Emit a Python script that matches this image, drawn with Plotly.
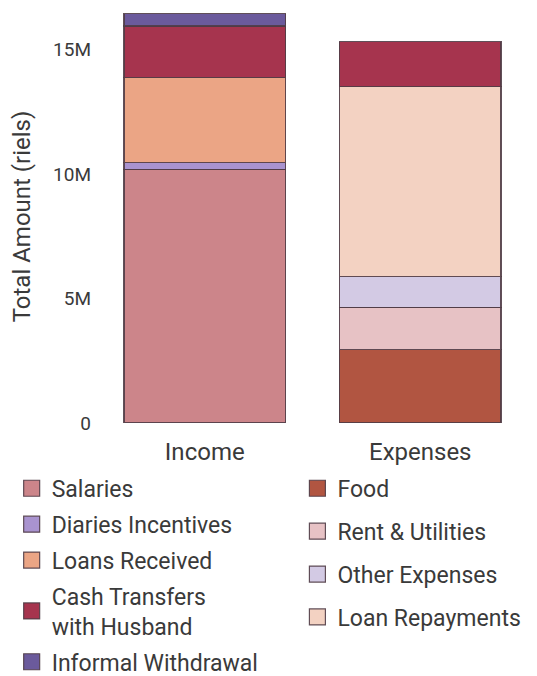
import plotly.graph_objects as go

# categories on the x axis
categories = ["Income", "Expenses"]

# income side (riels), bottom to top
salaries = [10.19e6, None]
diaries_incentives = [0.28e6, None]
loans_received = [3.41e6, None]
informal_withdrawal = [0.49e6, None]

# expenses side (riels), bottom to top
food = [None, 2.94e6]
rent_utilities = [None, 1.71e6]
other_expenses = [None, 1.23e6]
loan_repayments = [None, 7.63e6]

# shared by both bars (top of expenses, under informal withdrawal on income)
cash_transfers = [2.08e6, 1.82e6]

tick_vals = [0, 5e6, 10e6, 15e6]
tick_text = ["0", "5M", "10M", "15M"]

FONT = "Roboto"

# (name, values, colour, legend, rank) in stacking order
series = [
    ("Salaries", salaries, "#cc858a", "legend", 1),
    ("Diaries Incentives", diaries_incentives, "#a993cf", "legend", 2),
    ("Loans Received", loans_received, "#eba585", "legend", 3),
    ("Food", food, "#b15541", "legend2", 1),
    ("Rent & Utilities", rent_utilities, "#e7c2c5", "legend2", 2),
    ("Other Expenses", other_expenses, "#d3cae4", "legend2", 3),
    ("Loan Repayments", loan_repayments, "#f3d2c2", "legend2", 4),
    ("Cash Transfers<br>with Husband", cash_transfers, "#a6344e", "legend", 4),
    ("Informal Withdrawal", informal_withdrawal, "#6b5a9c", "legend", 5),
]

fig = go.Figure()

for name, vals, col, leg, rank in series:
    fig.add_trace(go.Bar(
        x=categories,
        y=vals,
        name=name,
        legendgroup=name,
        showlegend=False,
        marker=dict(color=col, line=dict(color="rgba(80,60,70,0.9)", width=1.2)),
    ))
    # bigger swatch for the legend entry
    fig.add_trace(go.Scatter(
        x=[None], y=[None],
        mode="markers",
        name=name,
        legendgroup=name,
        legend=leg,
        legendrank=rank,
        marker=dict(symbol="square", size=16, color=col,
                    line=dict(color="rgba(80,60,70,0.9)", width=1.2)),
    ))

# page body has an 8px margin, so the figure is a bit smaller than the window
fig.update_layout(
    width=529,
    height=668,
    barmode="stack",
    bargap=0.25,
    plot_bgcolor="white",
    paper_bgcolor="white",
    font=dict(family=FONT, color="#3a3a3a"),
    margin=dict(l=89, r=9, t=2, b=253, autoexpand=False),
    legend=dict(
        x=-0.198, y=-0.106, xanchor="left", yanchor="top",
        traceorder="grouped", tracegroupgap=3,
        font=dict(size=23, family=FONT, color="#3a3a3a"),
    ),
    legend2=dict(
        x=0.465, y=-0.106, xanchor="left", yanchor="top",
        traceorder="grouped", tracegroupgap=10,
        font=dict(size=23, family=FONT, color="#3a3a3a"),
    ),
)

fig.update_xaxes(
    showgrid=False, showline=False, zeroline=False, ticks="",
    tickfont=dict(size=24),
    ticklabelstandoff=12,
)
fig.update_yaxes(
    range=[0, 16.6e6],
    tickvals=tick_vals,
    ticktext=tick_text,
    showgrid=False, showline=False, zeroline=False, ticks="",
    tickfont=dict(size=19),
    ticklabelstandoff=5,
    title=dict(text="Total Amount (riels)", font=dict(size=24), standoff=20),
)

fig.write_html("out.html")
